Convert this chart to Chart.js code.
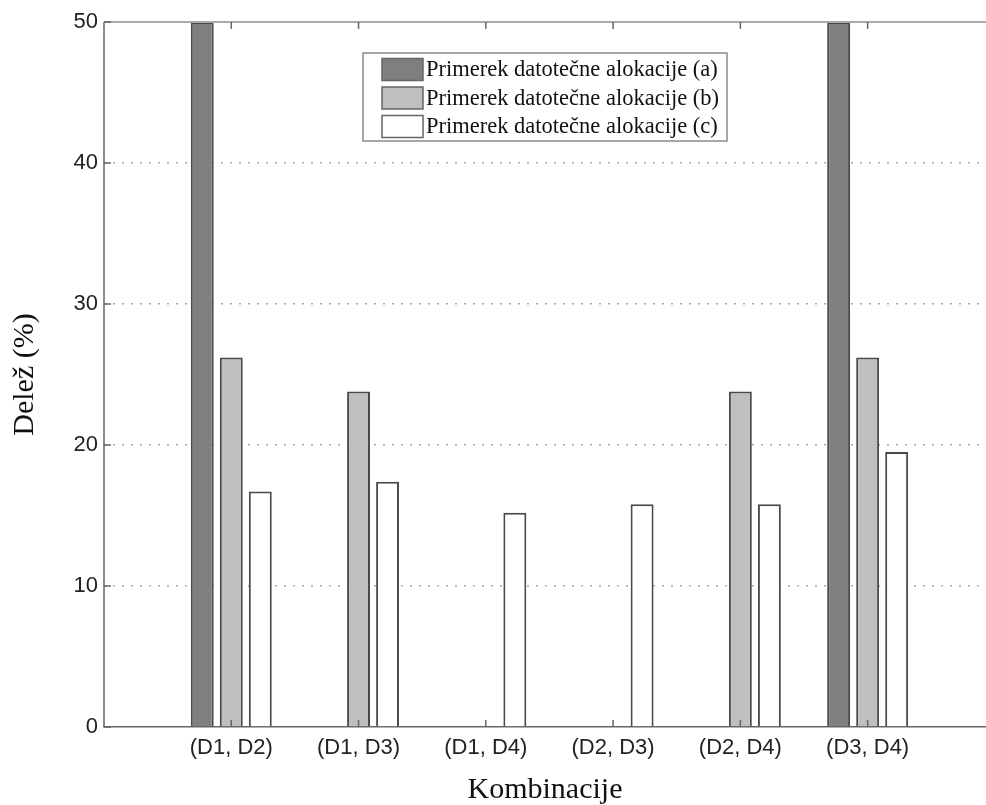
<!DOCTYPE html>
<html>
<head>
<meta charset="utf-8">
<script src="https://cdn.jsdelivr.net/npm/chart.js@4"></script>
<style>
    html, body { margin: 0; padding: 0; background: #fff; }
    #wrap { width: 986px; height: 805px; }
</style>
</head>
<body>
<div id="wrap"><canvas id="chart"></canvas></div>
<script>
const categories = ["(D1, D2)", "(D1, D3)", "(D1, D4)", "(D2, D3)", "(D2, D4)", "(D3, D4)"];
const seriesLabels = [
    "Primerek datotečne alokacije (a)",
    "Primerek datotečne alokacije (b)",
    "Primerek datotečne alokacije (c)"
];
const seriesA = [50, null, null, null, null, 50];
const seriesB = [26.2, 23.8, null, null, 23.8, 26.2];
const seriesC = [16.7, 17.4, 15.2, 15.8, 15.8, 19.5];
const yTicks = [0, 10, 20, 30, 40, 50];

const fills = ["#7f7f7f", "#bfbfbf", "#ffffff"];

/* bars sit on x = 1..6, like the matlab xlim [0 7] */
function toPoints(values) {
    return values.map((v, i) => ({ x: i + 1, y: v }));
}

/* frame, inside ticks and boxed legend */
const framePlugin = {
    id: "frame",
    afterDraw(chart) {
        const { ctx, chartArea } = chart;
        const x = chart.scales.x;
        const y = chart.scales.y;

        ctx.save();
        ctx.setLineDash([]);
        ctx.strokeStyle = "#aaaaaa";
        ctx.lineWidth = 2;
        ctx.beginPath();
        ctx.moveTo(chartArea.left, chartArea.top);
        ctx.lineTo(chart.width, chartArea.top);
        ctx.stroke();

        /* left axis, solid */
        ctx.strokeStyle = "#666";
        ctx.lineWidth = 1.5;
        ctx.beginPath();
        ctx.moveTo(chartArea.left, chartArea.top);
        ctx.lineTo(chartArea.left, chartArea.bottom);
        categories.forEach((c, i) => {
            const px = x.getPixelForValue(i + 1);
            ctx.moveTo(px, chartArea.top);
            ctx.lineTo(px, chartArea.top + 7);
            ctx.moveTo(px, chartArea.bottom);
            ctx.lineTo(px, chartArea.bottom - 7);
        });
        yTicks.forEach(t => {
            const py = y.getPixelForValue(t);
            ctx.moveTo(chartArea.left, py);
            ctx.lineTo(chartArea.left + 7, py);
        });
        ctx.stroke();

        /* legend */
        const box = { left: 363, top: 53, right: 727, bottom: 141 };
        ctx.fillStyle = "#fff";
        ctx.fillRect(box.left, box.top, box.right - box.left, box.bottom - box.top);
        ctx.strokeStyle = "#8a8a8a";
        ctx.lineWidth = 1.5;
        ctx.strokeRect(box.left, box.top, box.right - box.left, box.bottom - box.top);

        ctx.font = "22.5px 'Liberation Serif', 'DejaVu Serif', serif";
        ctx.textBaseline = "middle";
        ctx.textAlign = "left";
        chart.data.datasets.forEach((ds, i) => {
            const cy = 69.5 + i * 28.5;
            ctx.fillStyle = ds.backgroundColor;
            ctx.fillRect(382, cy - 11, 41, 22);
            ctx.strokeStyle = "#666";
            ctx.lineWidth = 1.5;
            ctx.strokeRect(382, cy - 11, 41, 22);
            ctx.fillStyle = "#111";
            ctx.fillText(ds.label, 426, cy + 1);
        });
        ctx.restore();
    }
};

new Chart(document.getElementById("chart"), {
    type: "bar",
    data: {
        datasets: [seriesA, seriesB, seriesC].map((values, i) => ({
            label: seriesLabels[i],
            data: toPoints(values),
            backgroundColor: fills[i],
            borderColor: "#4a4a4a",
            borderWidth: 2,
            categoryPercentage: 0.684,
            barPercentage: 0.79
        }))
    },
    options: {
        responsive: true,
        maintainAspectRatio: false,
        animation: false,
        layout: { padding: { top: 22, right: 0, left: 0, bottom: 0 } },
        plugins: {
            legend: { display: false },
            tooltip: { enabled: false }
        },
        scales: {
            x: {
                type: "linear",
                min: 0,
                max: 6.93,
                offset: false,
                grid: { display: false, offset: false, drawTicks: false },
                border: { color: "#666", width: 1.5 },
                afterFit: (scale) => { scale.height = 78; },
                ticks: {
                    stepSize: 1,
                    includeBounds: false,
                    autoSkip: false,
                    maxRotation: 0,
                    padding: 8,
                    color: "#222",
                    font: { family: "'Liberation Sans', Arial, sans-serif", size: 22 },
                    callback: (v) => categories[v - 1] || ""
                },
                title: {
                    display: true,
                    text: "Kombinacije",
                    color: "#111",
                    padding: 0,
                    font: { family: "'Liberation Serif', serif", size: 30, lineHeight: 1 }
                }
            },
            y: {
                min: 0,
                max: 50,
                afterFit: (scale) => { scale.width = 104; },
                afterBuildTicks: (scale) => { scale.ticks = yTicks.map(v => ({ value: v })); },
                border: { display: false, dash: [2, 7] },
                grid: {
                    drawTicks: false,
                    color: (c) => (c.tick.value === 0 || c.tick.value === 50) ? "rgba(0,0,0,0)" : "#a8a8a8",
                    lineWidth: 1.5
                },
                ticks: {
                    padding: 6,
                    color: "#222",
                    font: { family: "'Liberation Sans', Arial, sans-serif", size: 22 }
                },
                title: {
                    display: true,
                    text: "Delež (%)",
                    color: "#111",
                    padding: { top: 7, bottom: 0 },
                    font: { family: "'Liberation Serif', serif", size: 30 }
                }
            }
        }
    },
    plugins: [framePlugin]
});
</script>
</body>
</html>
